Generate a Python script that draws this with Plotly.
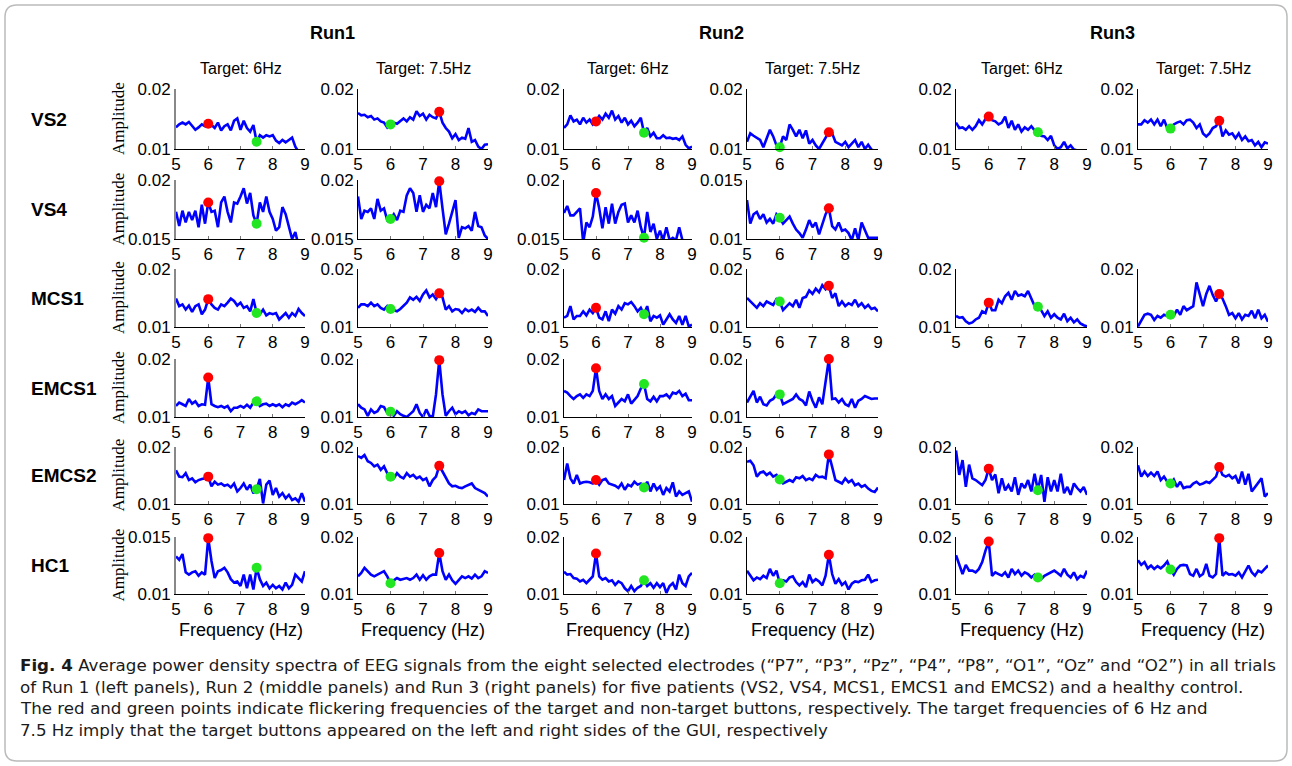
import plotly.graph_objects as go

W, H = 1292, 766

# ---------------- data ----------------
freq = [5.0, 5.1, 5.2, 5.3, 5.4, 5.5, 5.6, 5.7, 5.8, 5.9,
        6.0, 6.1, 6.2, 6.3, 6.4, 6.5, 6.6, 6.7, 6.8, 6.9,
        7.0, 7.1, 7.2, 7.3, 7.4, 7.5, 7.6, 7.7, 7.8, 7.9,
        8.0, 8.1, 8.2, 8.3, 8.4, 8.5, 8.6, 8.7, 8.8, 8.9, 9.0]

# amplitudes in units of 1e-4
vs2_run1_6 = [136,141,144,141,145,138,132,136,141,138, 142,140,135,144,131,138,141,131,147,151,
              132,147,135,129,140,112,123,119,123,121, 123,114,110,115,111,115,119,104,95,96, 97]
vs2_run1_75 = [160,156,157,153,155,149,151,146,144,136, 141,144,142,146,151,146,153,149,163,155,
               159,149,157,153,151,162,144,135,129,118, 125,115,119,117,135,112,115,104,100,107, 108]
vs2_run2_6 = [135,141,156,146,149,141,152,144,149,141, 146,155,149,159,152,164,149,155,144,152,
              141,147,138,144,152,127,135,121,127,118, 118,123,118,119,117,118,115,121,107,101, 104]
vs2_run2_75 = [112,126,122,118,115,103,118,132,121,106, 103,121,115,141,132,121,132,118,131,109,
               115,106,100,109,118,128,126,112,109,106, 112,103,109,115,103,112,100,107,99,97, 97]
vs2_run3_6 = [144,135,136,132,138,132,138,148,141,150, 154,148,146,141,144,154,135,147,132,141,
              129,136,132,138,131,128,122,121,115,122, 106,100,103,112,101,106,99,97,96,95, 95]
vs2_run3_75 = [141,141,148,144,149,141,149,138,149,135, 134,141,144,146,141,148,149,144,135,141,
               126,121,126,135,138,147,121,131,124,126, 118,126,115,121,113,115,106,112,103,111, 109]

vs4_run1_6 = [173,161,174,164,173,166,174,160,179,163, 181,173,174,160,181,186,173,164,181,180,
              186,193,180,189,170,163,181,173,186,173, 167,157,160,177,171,161,150,156,144,143, 143]
vs4_run1_75 = [186,167,174,173,176,167,184,174,176,166, 167,171,166,174,173,187,193,189,173,187,
               173,179,176,189,177,199,176,154,163,173, 183,151,160,159,161,157,173,161,160,153, 150]
vs4_run2_6 = [172,178,170,170,173,176,147,164,160,169, 189,176,159,177,163,180,163,173,179,180,
              164,170,164,174,160,151,173,156,163,150, 157,149,160,149,151,149,160,149,147,147, 147]
vs4_run2_75 = [133,113,121,123,117,121,114,117,113,121, 118,113,116,119,113,108,105,101,108,116,
               110,114,104,113,121,126,111,108,114,107, 108,105,99,109,99,114,107,101,101,101, 101]

mcs1_run1_6 = [149,136,139,130,137,126,136,139,122,130, 148,139,133,130,139,136,142,149,145,137,
               142,133,136,127,148,124,122,130,120,124, 122,124,113,119,124,116,124,119,131,124, 119]
mcs1_run1_75 = [133,139,139,136,142,136,139,133,130,136, 131,129,127,131,136,142,151,147,152,145,
                156,163,151,156,148,158,151,130,136,127, 131,130,124,131,127,130,126,133,127,127, 119]
mcs1_run2_6 = [116,119,136,113,119,119,127,120,130,124, 133,116,113,127,110,130,123,136,130,141,
               139,143,136,127,133,122,136,110,119,116, 120,104,113,122,113,107,119,104,119,101, 104]
mcs1_run2_75 = [150,144,138,133,141,136,144,141,138,148, 144,129,136,141,136,147,133,150,152,163,
                157,166,160,172,165,171,150,158,136,144, 136,141,138,147,136,141,133,138,131,133, 127]
mcs1_run3_6 = [119,116,117,110,106,108,113,116,127,124, 142,129,129,147,141,153,159,147,162,154,
               156,153,162,150,136,135,129,119,127,116, 122,116,113,123,110,116,108,113,106,103, 101]
mcs1_run3_75 = [101,112,121,123,121,112,119,116,121,119, 121,119,130,121,136,129,133,136,177,158,
                136,157,171,155,144,157,149,136,121,124, 115,124,113,121,119,128,115,130,115,121, 109]

emcs1_run1_6 = [119,125,122,119,131,123,127,119,122,121, 168,122,119,117,119,116,119,110,116,116,
                119,116,121,116,125,127,119,122,123,119, 122,119,122,117,122,119,125,122,125,129, 125]
emcs1_run1_75 = [122,116,113,102,113,107,110,119,117,107, 109,102,110,105,102,100,105,110,122,107,
                 100,113,102,100,139,198,139,102,110,116, 105,110,107,110,103,107,105,113,110,110, 110]
emcs1_run2_6 = [145,142,136,131,136,139,133,139,136,145, 184,145,131,139,131,136,119,125,131,127,
                139,123,129,136,149,157,131,127,135,127, 136,136,139,133,142,140,145,136,140,129, 129]
emcs1_run2_75 = [125,136,145,125,135,122,120,128,131,139, 139,122,125,128,131,139,131,128,120,144,
                 128,116,134,122,160,200,131,132,125,131, 122,119,131,116,128,131,136,134,131,132, 132]

emcs2_run1_6 = [159,148,147,154,142,145,138,142,144,145, 148,131,139,134,136,132,134,129,136,122,
                128,136,125,134,119,126,144,101,134,141, 116,128,113,119,110,116,107,110,104,119, 104]
emcs2_run1_75 = [184,181,186,175,172,166,169,160,166,154, 148,145,154,148,145,154,148,151,145,148,
                 142,145,131,142,148,167,157,145,136,131, 132,129,128,131,134,136,128,125,122,119, 113]
emcs2_run2_6 = [142,171,145,136,151,136,138,139,138,136, 142,134,142,144,136,134,132,128,136,125,
                134,131,139,134,136,129,139,122,136,125, 131,116,128,122,138,113,122,116,119,122, 104]
emcs2_run2_75 = [174,176,168,148,155,157,151,155,148,151, 143,136,139,142,139,147,145,149,142,145,
                 142,151,147,148,145,187,165,142,139,136, 145,138,142,133,136,130,133,127,123,121, 129]
emcs2_run3_6 = [194,151,177,130,169,145,142,137,133,142, 162,142,152,119,145,124,133,122,147,116,
                136,128,142,122,153,124,151,104,147,122, 142,122,153,119,130,116,136,128,122,130, 116]
emcs2_run3_75 = [168,148,157,149,155,149,157,142,148,139, 136,143,130,139,128,130,130,136,139,134,
                 136,139,137,142,148,165,151,148,151,145, 149,136,157,134,153,122,130,136,145,113, 119]

hc1_run1_6 = [133,130,135,119,117,119,120,116,119,117, 149,129,114,120,121,123,119,113,110,111,
              107,117,105,117,104,123,113,107,110,105, 108,105,107,104,110,105,108,117,114,111, 120]
hc1_run1_75 = [131,137,146,140,134,131,134,137,140,131, 119,124,128,125,127,128,125,128,134,125,
               133,125,131,134,134,172,140,125,134,124, 118,125,131,128,131,127,134,128,131,140, 137]
hc1_run2_6 = [139,134,135,128,127,122,125,119,125,131, 171,131,125,128,122,124,116,122,119,110,
              105,114,105,111,114,124,114,119,111,119, 112,119,102,114,119,108,134,119,114,131, 137]
hc1_run2_75 = [141,132,124,129,126,132,128,144,132,141, 119,124,122,129,131,121,115,121,112,134,
               121,126,122,115,132,169,135,118,126,116, 121,108,118,122,121,124,125,134,121,124, 125]
hc1_run3_6 = [168,153,135,151,141,141,138,144,156,176, 192,132,138,135,132,138,129,144,135,141,
              132,138,135,129,134,129,126,132,135,138, 141,137,132,144,134,129,138,126,132,129, 141]
hc1_run3_75 = [159,151,156,145,150,144,149,145,150,157, 143,134,144,150,151,150,135,132,144,131,
               135,153,132,129,135,198,132,138,134,135, 132,138,129,141,150,138,132,141,138,144, 150]

groups = ["VS2", "VS4", "MCS1", "EMCS1", "EMCS2", "HC1"]
runs = ["Run1", "Run2", "Run3"]
targets = ["Target: 6Hz", "Target: 7.5Hz"]
target_freqs = [6.0, 7.5]
x_ticks = [5, 6, 7, 8, 9]

# (row, col, values, y-limits in 1e-4 units)
panels = [
    (0, 0, vs2_run1_6, (100, 200)), (0, 1, vs2_run1_75, (100, 200)),
    (0, 2, vs2_run2_6, (100, 200)), (0, 3, vs2_run2_75, (100, 200)),
    (0, 4, vs2_run3_6, (100, 200)), (0, 5, vs2_run3_75, (100, 200)),
    (1, 0, vs4_run1_6, (150, 200)), (1, 1, vs4_run1_75, (150, 200)),
    (1, 2, vs4_run2_6, (150, 200)), (1, 3, vs4_run2_75, (100, 150)),
    (2, 0, mcs1_run1_6, (100, 200)), (2, 1, mcs1_run1_75, (100, 200)),
    (2, 2, mcs1_run2_6, (100, 200)), (2, 3, mcs1_run2_75, (100, 200)),
    (2, 4, mcs1_run3_6, (100, 200)), (2, 5, mcs1_run3_75, (100, 200)),
    (3, 0, emcs1_run1_6, (100, 200)), (3, 1, emcs1_run1_75, (100, 200)),
    (3, 2, emcs1_run2_6, (100, 200)), (3, 3, emcs1_run2_75, (100, 200)),
    (4, 0, emcs2_run1_6, (100, 200)), (4, 1, emcs2_run1_75, (100, 200)),
    (4, 2, emcs2_run2_6, (100, 200)), (4, 3, emcs2_run2_75, (100, 200)),
    (4, 4, emcs2_run3_6, (100, 200)), (4, 5, emcs2_run3_75, (100, 200)),
    (5, 0, hc1_run1_6, (100, 150)), (5, 1, hc1_run1_75, (100, 200)),
    (5, 2, hc1_run2_6, (100, 200)), (5, 3, hc1_run2_75, (100, 200)),
    (5, 4, hc1_run3_6, (100, 200)), (5, 5, hc1_run3_75, (100, 200)),
]

caption_lines = [
    "<b>Fig. 4</b> Average power density spectra of EEG signals from the eight selected electrodes (\u201cP7\u201d, \u201cP3\u201d, \u201cPz\u201d, \u201cP4\u201d, \u201cP8\u201d, \u201cO1\u201d, \u201cOz\u201d and \u201cO2\u201d) in all trials",
    "of Run 1 (left panels), Run 2 (middle panels) and Run 3 (right panels) for five patients (VS2, VS4, MCS1, EMCS1 and EMCS2) and a healthy control.",
    "The red and green points indicate flickering frequencies of the target and non-target buttons, respectively. The target frequencies of 6 Hz and",
    "7.5 Hz imply that the target buttons appeared on the left and right sides of the GUI, respectively",
]

# ---------------- layout geometry (pixels) ----------------
col_px = [(176, 305), (358, 488), (564, 692), (747, 878), (956, 1087), (1138, 1268)]
row_px = [(89, 149), (180, 239), (269, 327), (359, 417), (447, 504), (537, 594)]

SANS = "Liberation Sans, Arial, sans-serif"
SERIF = "Liberation Serif, Times New Roman, serif"
CAPTION = "DejaVu Sans, sans-serif"


def px(x):
    return x / W


def py(y):
    return 1 - y / H


fig = go.Figure()
layout = dict(width=W, height=H, margin=dict(l=0, r=0, t=0, b=0, autoexpand=False),
              paper_bgcolor="white", plot_bgcolor="rgba(0,0,0,0)", showlegend=False)

for i, (r, c, vals, (lo, hi)) in enumerate(panels):
    k = i + 1
    sfx = "" if k == 1 else str(k)
    amp = [v * 1e-4 for v in vals]
    tgt = target_freqs[c % 2]
    other = target_freqs[1 - c % 2]
    fig.add_trace(go.Scatter(x=freq, y=amp, mode="lines",
                             line=dict(color="#0000ff", width=2.6),
                             xaxis="x" + sfx, yaxis="y" + sfx, hoverinfo="skip"))
    gi, ri = freq.index(other), freq.index(tgt)
    fig.add_trace(go.Scatter(x=[freq[gi]], y=[amp[gi]], mode="markers",
                             marker=dict(color="#22e622", size=10, line=dict(width=0)),
                             cliponaxis=False, xaxis="x" + sfx, yaxis="y" + sfx))
    fig.add_trace(go.Scatter(x=[freq[ri]], y=[amp[ri]], mode="markers",
                             marker=dict(color="#ff0000", size=10, line=dict(width=0)),
                             cliponaxis=False, xaxis="x" + sfx, yaxis="y" + sfx))
    x0, x1 = col_px[c]
    y0, y1 = row_px[r]
    ylo, yhi = lo * 1e-4, hi * 1e-4
    layout["xaxis" + sfx] = dict(domain=[px(x0), px(x1)], range=[5, 9], anchor="y" + sfx,
                                 tickvals=x_ticks, ticktext=[str(t) for t in x_ticks],
                                 showline=True, linecolor="#000", linewidth=1,
                                 ticks="inside", ticklen=3, tickcolor="#777",
                                 showgrid=False, zeroline=False,
                                 tickfont=dict(family=SANS, size=17, color="#000"))
    layout["yaxis" + sfx] = dict(domain=[py(y1), py(y0)], range=[ylo, yhi], anchor="x" + sfx,
                                 tickvals=[ylo, yhi], ticktext=[f"{ylo:g}", f"{yhi:g}"],
                                 showline=True, linecolor="#000" if c else "#888",
                                 linewidth=1 if c else 2,
                                 ticks="", showgrid=False, zeroline=False,
                                 tickfont=dict(family=SANS, size=17, color="#000"))

fig.update_layout(**layout)

ann = []
# run headers
for j, name in enumerate(runs):
    xc = (col_px[2 * j][0] + col_px[2 * j + 1][1]) / 2
    ann.append(dict(text=f"<b>{name}</b>", x=px(xc), y=py(33), xref="paper", yref="paper",
                    showarrow=False, xanchor="center", yanchor="middle",
                    font=dict(family=SANS, size=18, color="#000")))
# target titles
for c in range(6):
    xc = (col_px[c][0] + col_px[c][1]) / 2
    ann.append(dict(text=targets[c % 2], x=px(xc), y=py(68), xref="paper", yref="paper",
                    showarrow=False, xanchor="center", yanchor="middle",
                    font=dict(family=SANS, size=16, color="#000")))
# row labels and Amplitude labels
for r, g in enumerate(groups):
    yc = (row_px[r][0] + row_px[r][1]) / 2
    ann.append(dict(text=f"<b>{g}</b>", x=px(29), y=py(yc), xref="paper", yref="paper",
                    showarrow=False, xanchor="left", yanchor="middle",
                    font=dict(family=SANS, size=19, color="#000")))
    ann.append(dict(text="Amplitude", x=px(118), y=py(yc), xref="paper", yref="paper",
                    showarrow=False, xanchor="center", yanchor="middle", textangle=-90,
                    font=dict(family=SERIF, size=17, color="#000")))
# x-axis labels
for c in range(6):
    xc = (col_px[c][0] + col_px[c][1]) / 2
    ann.append(dict(text="Frequency (Hz)", x=px(xc), y=py(630), xref="paper", yref="paper",
                    showarrow=False, xanchor="center", yanchor="middle",
                    font=dict(family=SANS, size=18, color="#000")))
# caption
for i, line in enumerate(caption_lines):
    ann.append(dict(text=line, x=px(18), y=py(665 + i * 21.5), xref="paper", yref="paper",
                    showarrow=False, xanchor="left", yanchor="middle",
                    font=dict(family=CAPTION, size=16.7, color="#1a1a1a")))
fig.update_layout(annotations=ann)

# rounded border
x0b, y0b, x1b, y1b, rr = 5, 5, 1287, 761, 12
path = (f"M {px(x0b + rr)},{py(y0b)} L {px(x1b - rr)},{py(y0b)} "
        f"Q {px(x1b)},{py(y0b)} {px(x1b)},{py(y0b + rr)} "
        f"L {px(x1b)},{py(y1b - rr)} Q {px(x1b)},{py(y1b)} {px(x1b - rr)},{py(y1b)} "
        f"L {px(x0b + rr)},{py(y1b)} Q {px(x0b)},{py(y1b)} {px(x0b)},{py(y1b - rr)} "
        f"L {px(x0b)},{py(y0b + rr)} Q {px(x0b)},{py(y0b)} {px(x0b + rr)},{py(y0b)} Z")
fig.update_layout(shapes=[dict(type="path", path=path, xref="paper", yref="paper",
                               line=dict(color="#bbbbbb", width=1.5))])

fig.write_html("out.html", config={"displayModeBar": False},
               post_script="document.body.style.margin='0';document.body.style.overflow='hidden';")
